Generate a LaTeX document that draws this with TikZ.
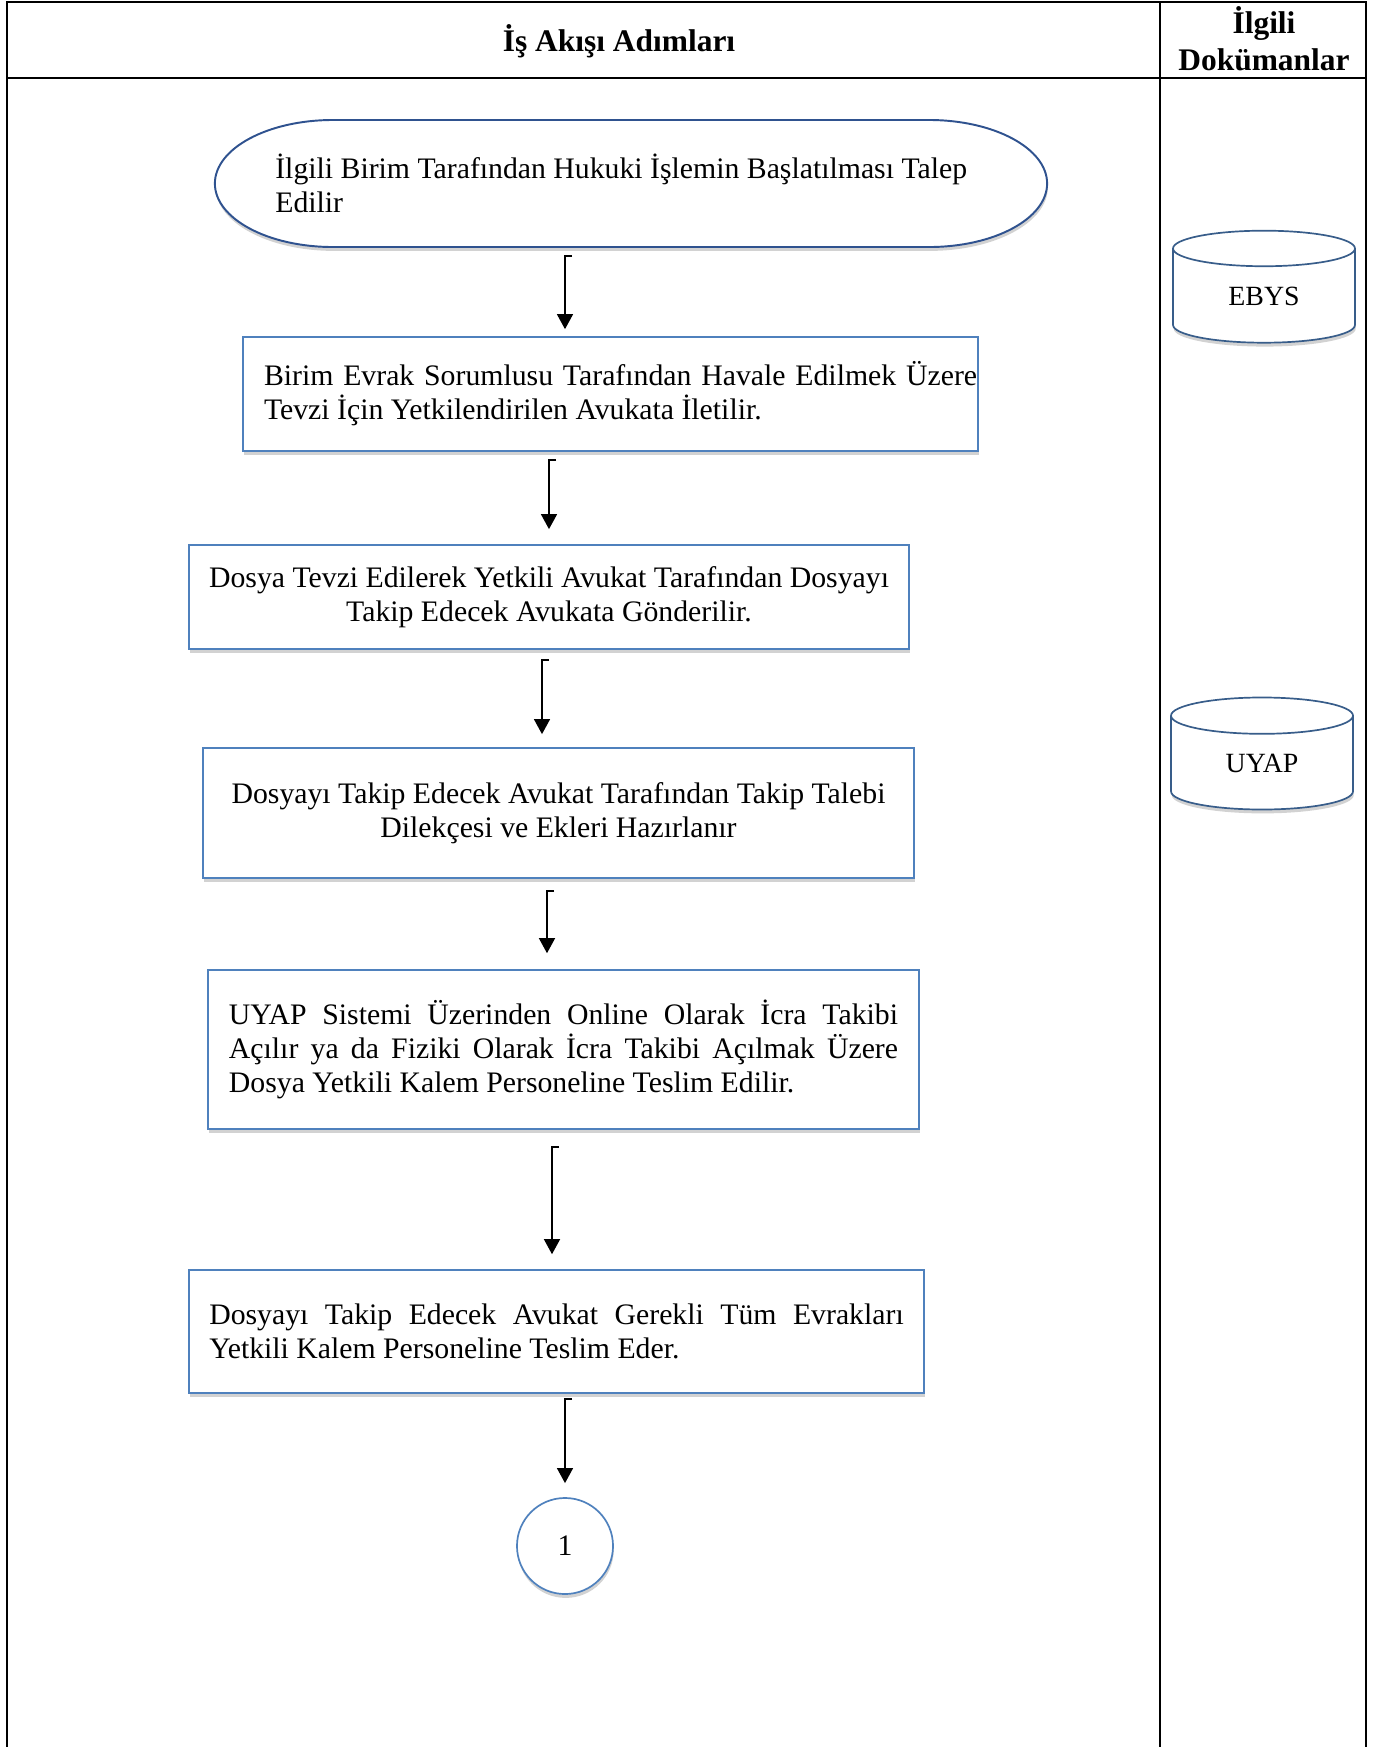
\documentclass[tikz,border=0pt]{standalone}
\usepackage{fontspec}
\setmainfont{Liberation Serif}
\usetikzlibrary{
    arrows.meta,
    shapes.geometric,
    shadows,
    backgrounds,
}

\definecolor{boxblue}{RGB}{79,129,189}
\definecolor{termblue}{RGB}{47,82,143}
\definecolor{dbblue}{RGB}{56,93,138}

\tikzset{
    softshadow/.style={drop shadow={shadow xshift=0.3pt, shadow yshift=-1.6pt, opacity=.25, fill=black!70}},
    stepbox/.style={draw=boxblue, line width=0.7pt, fill=white, softshadow, inner sep=0pt},
    termtext/.style={inner sep=0pt, outer sep=0pt, minimum width=343.9pt, minimum height=52.5pt, text width=294pt, align=flush left},
    database/.style={cylinder, shape border rotate=90, aspect=0.5, draw=dbblue, line width=0.7pt,
        fill=white, softshadow, minimum width=75.2pt, minimum height=46.3pt, inner sep=0pt,
        font=\fontsize{11.5pt}{14pt}\selectfont},
    flow/.style={-{Triangle[length=6.2pt, width=6.6pt]}, line width=0.6pt, black},
    tableline/.style={line width=0.9pt, black},
    header/.style={font=\fontsize{13pt}{15.2pt}\selectfont\bfseries, align=center},
}

\begin{document}
\begin{tikzpicture}[x=0.4133pt, y=-0.4133pt, font=\fontsize{12.3pt}{14pt}\selectfont]
    \useasboundingbox (0,0) rectangle (1381,1747);

    % table frame
    \draw[tableline] (7,1747) -- (7,2) -- (1366,2) -- (1366,1747);
    \draw[tableline] (7,78) -- (1366,78);
    \draw[tableline] (1160,2) -- (1160,1747);

    \node[header] (hsteps) at (619,41) {İş Akışı Adımları};
    \node[header] (hdocs) at (1264,39) {İlgili\\Dokümanlar};

    % start
    \node[termtext] (start) at (631,183.5) {İlgili Birim Tarafından Hukuki İşlemin Başlatılması Talep\\Edilir};
    \begin{scope}[on background layer]
        \draw[termblue, line width=0.8pt, line join=round, fill=white, softshadow]
            (start.north) -- ([shift={(-118,0)}]start.north east)
            arc[start angle=90, end angle=-90, x radius=48.8pt, y radius=26.25pt]
            -- ([shift={(118,0)}]start.south west)
            arc[start angle=270, end angle=90, x radius=48.8pt, y radius=26.25pt] -- cycle;
    \end{scope}

    % steps
    \node[stepbox, minimum width=303.8pt, minimum height=47.1pt] (havale) at (610.5,394)
        {\hspace*{8.3pt}\parbox{294.7pt}{Birim Evrak Sorumlusu Tarafından Havale Edilmek Üzere\linebreak Tevzi İçin Yetkilendirilen Avukata İletilir.}};
    \node[stepbox, minimum width=297.6pt, minimum height=43pt, align=center] (tevzi) at (549,597)
        {Dosya Tevzi Edilerek Yetkili Avukat Tarafından Dosyayı\\Takip Edecek Avukata Gönderilir.};
    \node[stepbox, minimum width=293.9pt, minimum height=53.7pt, align=center] (dilekce) at (558.5,813)
        {Dosyayı Takip Edecek Avukat Tarafından Takip Talebi\\Dilekçesi ve Ekleri Hazırlanır};
    \node[stepbox, minimum width=293.9pt, minimum height=65.7pt, text width=276.5pt, align=justify] (icra) at (563.5,1049.5)
        {UYAP Sistemi Üzerinden Online Olarak İcra Takibi\linebreak Açılır ya da Fiziki Olarak İcra Takibi Açılmak Üzere\linebreak Dosya Yetkili Kalem Personeline Teslim Edilir.};
    \node[stepbox, minimum width=303.8pt, minimum height=50.8pt, text width=287pt, align=justify] (teslim) at (556.5,1331.5)
        {Dosyayı Takip Edecek Avukat Gerekli Tüm Evrakları\linebreak Yetkili Kalem Personeline Teslim Eder.};
    \node[stepbox, circle, minimum size=39.7pt] (link) at (565,1546) {1};

    % documents
    \node[database] (ebys) at (1264,296) {EBYS};
    \node[database] (uyap) at (1262,763) {UYAP};

    % arrows
    \draw[flow, shorten >=2.9pt] ([shift={(-59,9)}]start.south) -- ++(-7,0) coordinate (k1) -- (k1 |- havale.north);
    \draw[flow, shorten >=6.2pt] ([shift={(-54.5,8)}]havale.south) -- ++(-7,0) coordinate (k2) -- (k2 |- tevzi.north);
    \draw[flow, shorten >=5.4pt] ([shift={(0,10)}]tevzi.south) -- ++(-7,0) coordinate (k3) -- (k3 |- dilekce.north);
    \draw[flow, shorten >=6.6pt] ([shift={(-4.5,12)}]dilekce.south) -- ++(-7,0) coordinate (k4) -- (k4 |- icra.north);
    \draw[flow, shorten >=6.2pt] ([shift={(-4.5,17)}]icra.south) -- ++(-7,0) coordinate (k5) -- (k5 |- teslim.north);
    \draw[flow, shorten >=5.8pt] ([shift={(15.5,5)}]teslim.south) -- ++(-7,0) coordinate (k6) -- (k6 |- link.north);
\end{tikzpicture}
\end{document}
